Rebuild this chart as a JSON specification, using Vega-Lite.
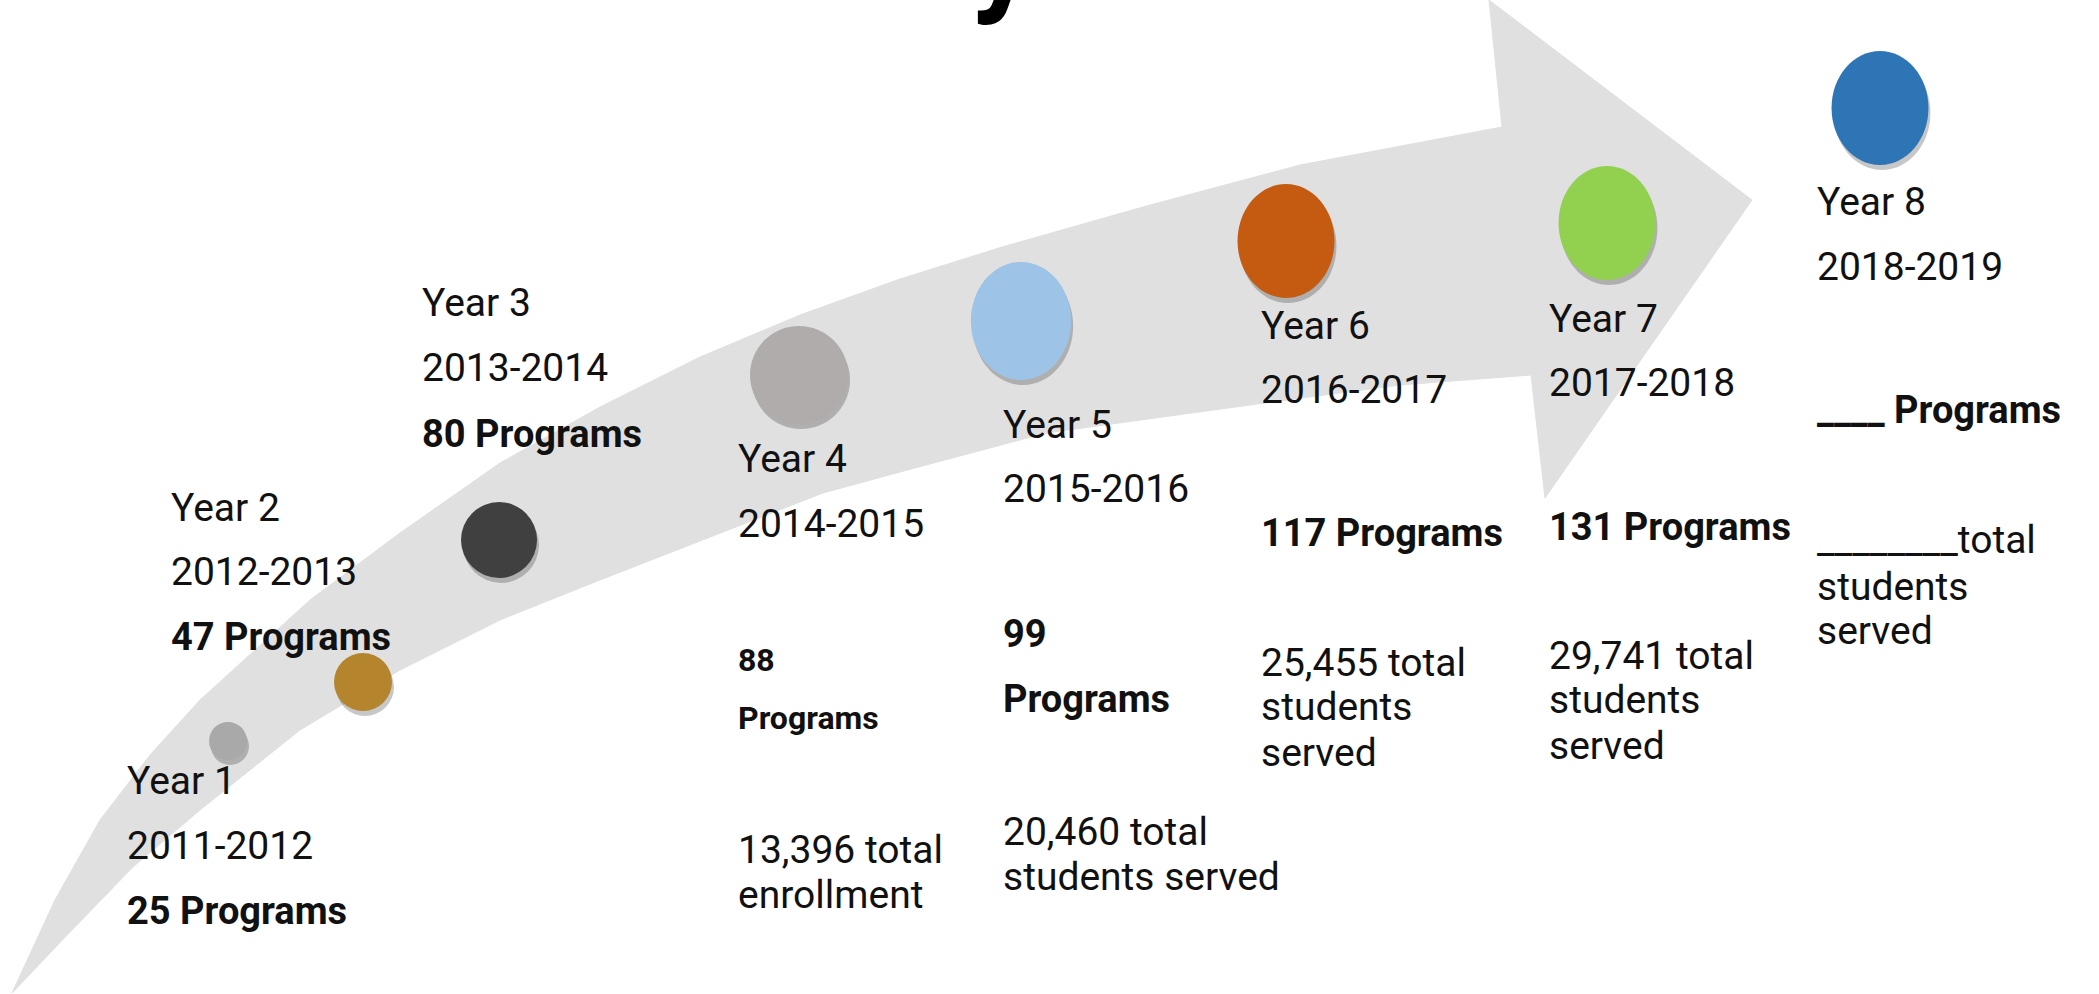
{
  "$schema": "https://vega.github.io/schema/vega-lite/v6.json",
  "width": 2099,
  "height": 994,
  "autosize": {"type": "fit", "contains": "padding"},
  "padding": 0,
  "background": "#ffffff",
  "config": {"view": {"stroke": null}, "text": {"font": "Roboto"}},
  "datasets": {
    "arrow": [
      {"order": 1, "x": 12, "y": 993},
      {"order": 2, "x": 55, "y": 900},
      {"order": 3, "x": 100, "y": 820},
      {"order": 4, "x": 150, "y": 755},
      {"order": 5, "x": 200, "y": 700},
      {"order": 6, "x": 310, "y": 600},
      {"order": 7, "x": 400, "y": 533},
      {"order": 8, "x": 500, "y": 463},
      {"order": 9, "x": 600, "y": 407},
      {"order": 10, "x": 700, "y": 357},
      {"order": 11, "x": 800, "y": 315},
      {"order": 12, "x": 900, "y": 279},
      {"order": 13, "x": 1002, "y": 247},
      {"order": 14, "x": 1150, "y": 205},
      {"order": 15, "x": 1300, "y": 165},
      {"order": 16, "x": 1502, "y": 127},
      {"order": 17, "x": 1489, "y": 0},
      {"order": 18, "x": 1752, "y": 200},
      {"order": 19, "x": 1545, "y": 498},
      {"order": 20, "x": 1531, "y": 375},
      {"order": 21, "x": 1400, "y": 385},
      {"order": 22, "x": 1250, "y": 405},
      {"order": 23, "x": 1046, "y": 433},
      {"order": 24, "x": 900, "y": 472},
      {"order": 25, "x": 823, "y": 493},
      {"order": 26, "x": 700, "y": 541},
      {"order": 27, "x": 600, "y": 580},
      {"order": 28, "x": 500, "y": 620},
      {"order": 29, "x": 400, "y": 670},
      {"order": 30, "x": 300, "y": 730},
      {"order": 31, "x": 200, "y": 810},
      {"order": 32, "x": 133, "y": 867},
      {"order": 33, "x": 70, "y": 932}
    ],
    "dots": [
      {"year": 1, "x": 228, "y": 741},
      {"year": 2, "x": 363, "y": 682},
      {"year": 3, "x": 499, "y": 540},
      {"year": 4, "x": 799, "y": 375},
      {"year": 5, "x": 1021, "y": 321},
      {"year": 6, "x": 1286, "y": 241},
      {"year": 7, "x": 1607, "y": 223},
      {"year": 8, "x": 1880, "y": 108}
    ],
    "labels": [
      {"year": 0, "kind": "title", "label": "y", "x": 1003, "y": -3},
      {"year": 1, "kind": "year", "label": "Year 1", "x": 127, "y": 782},
      {"year": 1, "kind": "period", "label": "2011-2012", "x": 127, "y": 847},
      {"year": 1, "kind": "programs", "label": "25 Programs", "x": 127, "y": 913},
      {"year": 2, "kind": "year", "label": "Year 2", "x": 171, "y": 509},
      {"year": 2, "kind": "period", "label": "2012-2013", "x": 171, "y": 573},
      {"year": 2, "kind": "programs", "label": "47 Programs", "x": 171, "y": 639},
      {"year": 3, "kind": "year", "label": "Year 3", "x": 422, "y": 304},
      {"year": 3, "kind": "period", "label": "2013-2014", "x": 422, "y": 369},
      {"year": 3, "kind": "programs", "label": "80 Programs", "x": 422, "y": 436},
      {"year": 4, "kind": "year", "label": "Year 4", "x": 738, "y": 460},
      {"year": 4, "kind": "period", "label": "2014-2015", "x": 738, "y": 525},
      {"year": 4, "kind": "programs", "label": "88", "x": 738, "y": 661},
      {"year": 4, "kind": "programs", "label": "Programs", "x": 738, "y": 719},
      {"year": 4, "kind": "students", "label": "13,396 total", "x": 738, "y": 851},
      {"year": 4, "kind": "students", "label": "enrollment", "x": 738, "y": 896},
      {"year": 5, "kind": "year", "label": "Year 5", "x": 1003, "y": 426},
      {"year": 5, "kind": "period", "label": "2015-2016", "x": 1003, "y": 490},
      {"year": 5, "kind": "programs", "label": "99", "x": 1003, "y": 636},
      {"year": 5, "kind": "programs", "label": "Programs", "x": 1003, "y": 701},
      {"year": 5, "kind": "students", "label": "20,460 total", "x": 1003, "y": 833},
      {"year": 5, "kind": "students", "label": "students served", "x": 1003, "y": 878},
      {"year": 6, "kind": "year", "label": "Year 6", "x": 1261, "y": 327},
      {"year": 6, "kind": "period", "label": "2016-2017", "x": 1261, "y": 391},
      {"year": 6, "kind": "programs", "label": "117 Programs", "x": 1261, "y": 535},
      {"year": 6, "kind": "students", "label": "25,455 total", "x": 1261, "y": 664},
      {"year": 6, "kind": "students", "label": "students", "x": 1261, "y": 708},
      {"year": 6, "kind": "students", "label": "served", "x": 1261, "y": 754},
      {"year": 7, "kind": "year", "label": "Year 7", "x": 1549, "y": 320},
      {"year": 7, "kind": "period", "label": "2017-2018", "x": 1549, "y": 384},
      {"year": 7, "kind": "programs", "label": "131 Programs", "x": 1549, "y": 529},
      {"year": 7, "kind": "students", "label": "29,741 total", "x": 1549, "y": 657},
      {"year": 7, "kind": "students", "label": "students", "x": 1549, "y": 701},
      {"year": 7, "kind": "students", "label": "served", "x": 1549, "y": 747},
      {"year": 8, "kind": "year", "label": "Year 8", "x": 1817, "y": 203},
      {"year": 8, "kind": "period", "label": "2018-2019", "x": 1817, "y": 268},
      {"year": 8, "kind": "programs", "label": "____ Programs", "x": 1817, "y": 412},
      {"year": 8, "kind": "students", "label": "________total", "x": 1817, "y": 541},
      {"year": 8, "kind": "students", "label": "students", "x": 1817, "y": 588},
      {"year": 8, "kind": "students", "label": "served", "x": 1817, "y": 632}
    ]
  },
  "encoding": {
    "x": {"field": "x", "type": "quantitative", "scale": {"domain": [0, 2099], "nice": false, "zero": false}, "axis": null},
    "y": {"field": "y", "type": "quantitative", "scale": {"domain": [0, 994], "nice": false, "zero": false, "reverse": true}, "axis": null}
  },
  "layer": [
    {
      "data": {"name": "arrow"},
      "mark": {"type": "line", "fill": "#e0e0e0", "stroke": "#e0e0e0", "strokeWidth": 1, "interpolate": "linear-closed", "clip": true},
      "encoding": {"order": {"field": "order", "type": "quantitative"}}
    },
    {
      "data": {"name": "dots"},
      "transform": [{"filter": "datum.year <= 4"}],
      "mark": {"type": "point", "shape": "circle", "filled": true, "opacity": 0.22, "color": "#000000", "xOffset": 2, "yOffset": 5},
      "encoding": {
        "size": {"field": "year", "type": "quantitative", "scale": {"type": "threshold", "domain": [1.5, 2.5, 3.5, 4.5, 5.5, 6.5, 7.5], "range": [1444, 3364, 5776, 9604, 13924, 12996, 12996, 12996]}, "legend": null}
      }
    },
    {
      "data": {"name": "dots"},
      "transform": [{"filter": "datum.year > 4"}],
      "mark": {"type": "point", "shape": "M -0.85 0 A 0.85 1 0 1 0 0.85 0 A 0.85 1 0 1 0 -0.85 0 Z", "filled": true, "opacity": 0.22, "color": "#000000", "xOffset": 2, "yOffset": 5},
      "encoding": {
        "size": {"field": "year", "type": "quantitative", "scale": {"type": "threshold", "domain": [1.5, 2.5, 3.5, 4.5, 5.5, 6.5, 7.5], "range": [1444, 3364, 5776, 9604, 13924, 12996, 12996, 12996]}, "legend": null}
      }
    },
    {
      "data": {"name": "dots"},
      "transform": [{"filter": "datum.year <= 4"}],
      "mark": {"type": "point", "shape": "circle", "filled": true, "opacity": 1},
      "encoding": {
        "size": {"field": "year", "type": "quantitative", "scale": {"type": "threshold", "domain": [1.5, 2.5, 3.5, 4.5, 5.5, 6.5, 7.5], "range": [1444, 3364, 5776, 9604, 13924, 12996, 12996, 12996]}, "legend": null},
        "color": {"field": "year", "type": "nominal", "scale": {"domain": [1, 2, 3, 4, 5, 6, 7, 8], "range": ["#a9a9a9", "#b5852e", "#404040", "#afacab", "#9dc3e6", "#c55a11", "#92d050", "#2e75b6"]}, "legend": null}
      }
    },
    {
      "data": {"name": "dots"},
      "transform": [{"filter": "datum.year > 4"}],
      "mark": {"type": "point", "shape": "M -0.85 0 A 0.85 1 0 1 0 0.85 0 A 0.85 1 0 1 0 -0.85 0 Z", "filled": true, "opacity": 1},
      "encoding": {
        "size": {"field": "year", "type": "quantitative", "scale": {"type": "threshold", "domain": [1.5, 2.5, 3.5, 4.5, 5.5, 6.5, 7.5], "range": [1444, 3364, 5776, 9604, 13924, 12996, 12996, 12996]}, "legend": null},
        "color": {"field": "year", "type": "nominal", "scale": {"domain": [1, 2, 3, 4, 5, 6, 7, 8], "range": ["#a9a9a9", "#b5852e", "#404040", "#afacab", "#9dc3e6", "#c55a11", "#92d050", "#2e75b6"]}, "legend": null}
      }
    },
    {
      "data": {"name": "labels"},
      "transform": [{"filter": "datum.kind == 'year' || datum.kind == 'period' || datum.kind == 'students'"}],
      "mark": {"type": "text", "align": "left", "baseline": "middle", "font": "Roboto", "fontSize": 39, "fontWeight": "normal", "color": "#111111"},
      "encoding": {"text": {"field": "label", "type": "nominal"}}
    },
    {
      "data": {"name": "labels"},
      "transform": [{"filter": "datum.kind == 'programs' && datum.year != 4"}],
      "mark": {"type": "text", "align": "left", "baseline": "middle", "font": "Roboto", "fontSize": 38, "fontWeight": "bold", "color": "#111111"},
      "encoding": {"text": {"field": "label", "type": "nominal"}}
    },
    {
      "data": {"name": "labels"},
      "transform": [{"filter": "datum.kind == 'programs' && datum.year == 4"}],
      "mark": {"type": "text", "align": "left", "baseline": "middle", "font": "Roboto", "fontSize": 32, "fontWeight": "bold", "color": "#111111"},
      "encoding": {"text": {"field": "label", "type": "nominal"}}
    },
    {
      "data": {"name": "labels"},
      "transform": [{"filter": "datum.kind == 'title'"}],
      "mark": {"type": "text", "align": "center", "baseline": "alphabetic", "font": "Roboto", "fontSize": 130, "fontWeight": "bold", "color": "#000000", "clip": true},
      "encoding": {"text": {"field": "label", "type": "nominal"}}
    }
  ]
}
